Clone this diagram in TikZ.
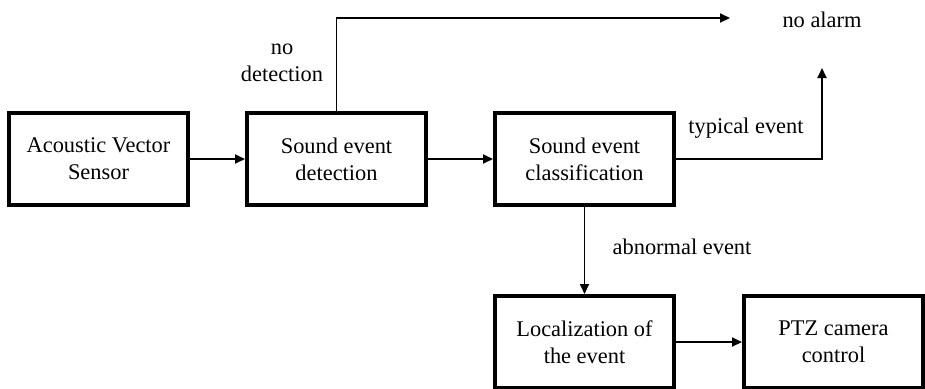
\documentclass[tikz,border=0pt]{standalone}
\usepackage{fontspec}
\setmainfont{Liberation Serif}
\usetikzlibrary{arrows.meta}

\tikzset{
  block/.style={draw, line width=1.8pt, minimum width=89.7pt, minimum height=46.2pt, align=center, inner sep=0pt},
  flow/.style={-{Triangle[length=5pt,width=4.5pt]}, line width=0.9pt},
  lbl/.style={align=center, inner sep=0pt}
}

\begin{document}
\begin{tikzpicture}[x=0.5pt,y=-0.5pt,font=\rmfamily\fontsize{11.2}{13.5}\selectfont]
	\useasboundingbox (0,0) rectangle (925,388);
	\clip (0,0) rectangle (925,388);

	\node[block] (avs) at (98.5,159) {Acoustic Vector\\Sensor};
	\node[block] (sed) at (336.5,159) {Sound event\\detection};
	\node[block] (sec) at (584.5,159) {Sound event\\classification};
	\node[block] (loc) at (584.5,342) {Localization of\\the event};
	\node[block] (ptz) at (833.5,342) {PTZ camera\\control};

	\node[lbl] (alarm) at (822,20) {no alarm};
	\coordinate (alarmin) at (730,18);
	\coordinate (typin) at (822,68);

	\draw[flow] (avs) -- (sed);
	\draw[flow] (sed) -- (sec);
	\draw[flow] (sed.north) |- (alarmin);
	\draw[flow] (sec.east) -| (typin);
	\draw[flow] (sec) -- (loc);
	\draw[flow] (loc) -- (ptz);

	\node[lbl] at (282,63) {no\\detection};
	\node[lbl] at (746,128) {typical event};
	\node[lbl] at (682,247) {abnormal event};
\end{tikzpicture}
\end{document}
